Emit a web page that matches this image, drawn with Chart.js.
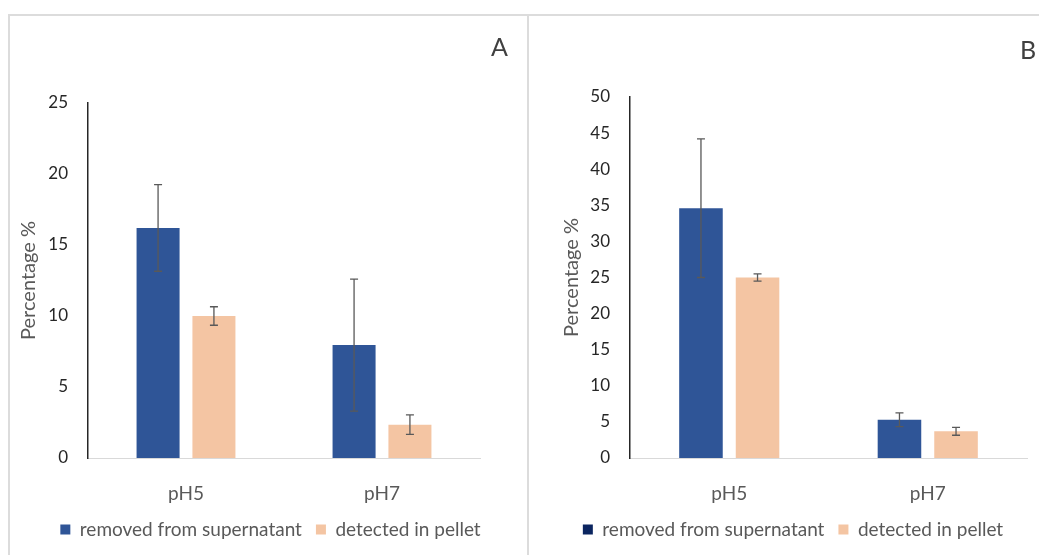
<!DOCTYPE html>
<html>
<head>
<meta charset="utf-8">
<script src="https://cdn.jsdelivr.net/npm/chart.js@4"></script>
<style>
  body { margin: 0; background: #fff; width: 1039px; height: 555px; position: relative; overflow: hidden; font-family: Lato, "Open Sans", sans-serif; }
  .panel { position: absolute; top: 15px; height: 540px; }
  #panelA { left: 9px; width: 519px; }
  #panelB { left: 529px; width: 510px; }
  .line { position: absolute; background: #dcdcdc; }
  .tag { position: absolute; font-size: 25px; color: #404040; }
</style>
</head>
<body>
<div class="line" style="left:8px; top:14px; width:1031px; height:2px;"></div>
<div class="line" style="left:8px; top:14px; width:2px; height:541px;"></div>
<div class="line" style="left:527px; top:14px; width:2px; height:541px;"></div>
<div class="panel" id="panelA"><canvas id="chartA"></canvas></div>
<div class="panel" id="panelB"><canvas id="chartB"></canvas></div>
<div class="tag" style="left:491px; top:31px;">A</div>
<div class="tag" style="left:1020px; top:34px;">B</div>
<script>
// Dữ liệu
const categories = ['pH5', 'pH7'];
const seriesNames = ['removed from supernatant', 'detected in pellet'];

const removedA = [16.2, 7.95];
const removedAErr = [3.05, 4.65];
const pelletA = [10.0, 2.35];
const pelletAErr = [0.65, 0.68];

const removedB = [34.6, 5.3];
const removedBErr = [9.6, 0.95];
const pelletB = [25.0, 3.7];
const pelletBErr = [0.5, 0.55];

const ticksA = [0, 5, 10, 15, 20, 25];
const ticksB = [0, 5, 10, 15, 20, 25, 30, 35, 40, 45, 50];

const blue = '#2F5597';
const peach = '#F4C5A3';

// Vẽ thanh sai số
const errorBarPlugin = {
    id: 'errorBars',
    afterDatasetsDraw(chart) {
        const ctx = chart.ctx;
        const yScale = chart.scales.y;
        ctx.save();
        ctx.strokeStyle = '#595959';
        ctx.lineWidth = 1.3;
        chart.data.datasets.forEach((ds, i) => {
            const meta = chart.getDatasetMeta(i);
            meta.data.forEach((bar, j) => {
                const v = ds.data[j];
                const e = ds.errors[j];
                const top = yScale.getPixelForValue(v + e);
                const bot = yScale.getPixelForValue(v - e);
                const cap = 4;
                ctx.beginPath();
                ctx.moveTo(bar.x, top);
                ctx.lineTo(bar.x, bot);
                ctx.moveTo(bar.x - cap, top);
                ctx.lineTo(bar.x + cap, top);
                ctx.moveTo(bar.x - cap, bot);
                ctx.lineTo(bar.x + cap, bot);
                ctx.stroke();
            });
        });
        ctx.restore();
    }
};

// Dời chú thích sang ngang
const legendShiftPlugin = {
    id: 'legendShift',
    afterLayout(chart, args, opts) {
        const lg = chart.legend;
        if (!lg || !opts.dx) return;
        lg.left += opts.dx;
        lg.right += opts.dx;
        lg.adjustHitBoxes();
    }
};

function makeChart(id, d1, e1, d2, e2, tickList, axisWidth, titlePad, pad, legendBlue, dx) {
    const ctx = document.getElementById(id).getContext('2d');
    return new Chart(ctx, {
        type: 'bar',
        data: {
            labels: categories,
            datasets: [{
                label: seriesNames[0],
                data: d1,
                errors: e1,
                backgroundColor: blue,
                categoryPercentage: 0.57,
                barPercentage: 0.77
            }, {
                label: seriesNames[1],
                data: d2,
                errors: e2,
                backgroundColor: peach,
                categoryPercentage: 0.57,
                barPercentage: 0.77
            }]
        },
        options: {
            responsive: true,
            maintainAspectRatio: false,
            animation: false,
            layout: { padding: pad },
            plugins: {
                tooltip: { enabled: false },
                legendShift: { dx: dx },
                legend: {
                    position: 'bottom',
                    labels: {
                        color: '#595959',
                        font: { family: 'Lato', size: 19 },
                        boxWidth: 10,
                        boxHeight: 10,
                        padding: 14,
                        generateLabels(chart) {
                            return chart.data.datasets.map((ds, i) => ({
                                text: ds.label,
                                fillStyle: i === 0 ? legendBlue : ds.backgroundColor,
                                strokeStyle: 'rgba(0,0,0,0)',
                                lineWidth: 0,
                                fontColor: '#595959',
                                datasetIndex: i
                            }));
                        }
                    }
                }
            },
            scales: {
                x: {
                    grid: { display: false, drawTicks: false },
                    border: { display: true, color: '#d9d9d9', width: 1 },
                    ticks: { color: '#595959', font: { family: 'Lato', size: 19 }, padding: 24 },
                    afterFit(s) { s.height = 48; }
                },
                y: {
                    min: 0,
                    max: tickList[tickList.length - 1],
                    grid: { display: false, drawTicks: false },
                    border: { display: true, color: '#262626', width: 1.5 },
                    afterBuildTicks(s) { s.ticks = tickList.map(v => ({ value: v })); },
                    ticks: { color: '#262626', font: { family: 'Lato', size: 17 }, padding: 20 },
                    title: {
                        display: true,
                        text: 'Percentage %',
                        color: '#595959',
                        font: { family: 'Lato', size: 20 },
                        padding: { top: titlePad, bottom: 0 }
                    },
                    afterFit(s) { s.width = axisWidth; }
                }
            }
        },
        plugins: [errorBarPlugin, legendShiftPlugin]
    });
}

makeChart('chartA', removedA, removedAErr, pelletA, pelletAErr, ticksA, 79, 8,
    { top: 88, right: 48, bottom: 6, left: 0 }, blue, 26);
makeChart('chartB', removedB, removedBErr, pelletB, pelletBErr, ticksB, 101, 31,
    { top: 82, right: 12, bottom: 6, left: 0 }, '#0B2560', 15);
</script>
</body>
</html>
